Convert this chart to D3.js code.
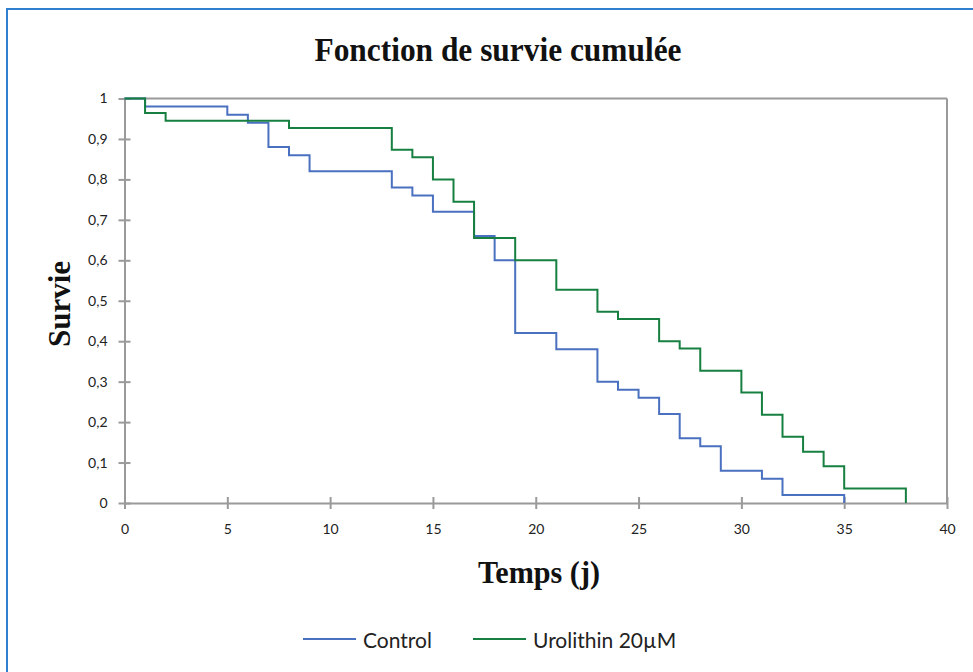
<!DOCTYPE html>
<html>
<head>
<meta charset="utf-8">
<script src="https://cdn.jsdelivr.net/npm/d3@7"></script>
<style>
  body { margin: 0; background: #fff; }
  svg { display: block; }
</style>
</head>
<body>
<script>
// ---- data ----
const controlTimes = [0, 1, 5, 6, 7, 8, 9, 13, 14, 15, 17, 18, 19, 21, 23, 24, 25, 26, 27, 28, 29, 31, 32, 35];
const controlSurv  = [1, 0.98, 0.96, 0.94, 0.88, 0.86, 0.82, 0.78, 0.76, 0.72, 0.66, 0.60, 0.42, 0.38, 0.30, 0.28, 0.26, 0.22, 0.16, 0.14, 0.08, 0.06, 0.02, 0];
const uroTimes = [0, 1, 2, 8, 13, 14, 15, 16, 17, 19, 21, 23, 24, 26, 27, 28, 30, 31, 32, 33, 34, 35, 38];
const uroSurv  = [1, 0.964, 0.945, 0.927, 0.873, 0.855, 0.800, 0.745, 0.655, 0.600, 0.527, 0.473, 0.455, 0.400, 0.382, 0.327, 0.273, 0.218, 0.164, 0.127, 0.091, 0.036, 0];
const xTicks = [0, 5, 10, 15, 20, 25, 30, 35, 40];
const yTicks = [0, 0.1, 0.2, 0.3, 0.4, 0.5, 0.6, 0.7, 0.8, 0.9, 1];
const seriesNames = ["Control", "Urolithin 20µM"];
const seriesColors = ["#4a70c0", "#178040"];

const W = 973, H = 672;
const svg = d3.select("body").append("svg").attr("width", W).attr("height", H);

// outer frame (extends past the window on right and bottom)
svg.append("rect").attr("x", 7).attr("y", 9).attr("width", 980).attr("height", 700)
  .attr("fill", "none").attr("stroke", "#2f7fcf").attr("stroke-width", 2);

const x = d3.scaleLinear().domain([0, 40]).range([124.5, 947]);
const y = d3.scaleLinear().domain([0, 1]).range([503, 98.5]);

const axisColor = "#9a9a9a";
const tickFont = "Lato, 'Open Sans', sans-serif";

// plot frame top & right
svg.append("line").attr("x1", x(0)).attr("x2", x(40)).attr("y1", y(1)).attr("y2", y(1))
  .attr("stroke", axisColor).attr("stroke-width", 2);
svg.append("line").attr("x1", x(40)).attr("x2", x(40)).attr("y1", y(1)).attr("y2", y(0))
  .attr("stroke", axisColor).attr("stroke-width", 2);

// axes
const xAxis = d3.axisBottom(x).tickValues(xTicks).tickFormat(d3.format("d")).tickSize(0).tickPadding(21);
const gx = svg.append("g").attr("transform", `translate(0,${y(0)})`).call(xAxis);
gx.select(".domain").attr("stroke", axisColor).attr("stroke-width", 2);
gx.selectAll(".tick").append("line").attr("y1", -6).attr("y2", 6).attr("stroke", axisColor).attr("stroke-width", 2);
gx.selectAll("text").attr("font-family", tickFont).attr("font-size", 14).attr("fill", "#222");

const fmt = d => d === 0 ? "0" : d === 1 ? "1" : d3.format(".1f")(d).replace(".", ",");
const yAxis = d3.axisLeft(y).tickValues(yTicks).tickFormat(fmt).tickSize(0).tickPadding(17);
const gy = svg.append("g").attr("transform", `translate(${x(0)},0)`).call(yAxis);
gy.select(".domain").attr("stroke", axisColor).attr("stroke-width", 2);
gy.selectAll(".tick").append("line").attr("x1", -6).attr("x2", 6).attr("stroke", axisColor).attr("stroke-width", 2);
gy.selectAll("text").attr("font-family", tickFont).attr("font-size", 14).attr("fill", "#222");

// step lines
const line = d3.line().x(d => x(d[0])).y(d => y(d[1])).curve(d3.curveStepAfter);
const series = [
  controlTimes.map((t, i) => [t, controlSurv[i]]),
  uroTimes.map((t, i) => [t, uroSurv[i]])
];
series.forEach((s, i) => {
  svg.append("path").datum(s).attr("d", line).attr("fill", "none")
    .attr("stroke", seriesColors[i]).attr("stroke-width", 2);
});

// titles
const serif = "'Liberation Serif', 'Times New Roman', serif";
svg.append("text").attr("x", 498).attr("y", 61).attr("text-anchor", "middle")
  .attr("font-family", serif).attr("font-weight", "bold").attr("font-size", 33)
  .attr("textLength", 367).attr("lengthAdjust", "spacingAndGlyphs")
  .attr("fill", "#111").text("Fonction de survie cumulée");
svg.append("text").attr("transform", "translate(70,304) rotate(-90)").attr("text-anchor", "middle")
  .attr("font-family", serif).attr("font-weight", "bold").attr("font-size", 31)
  .attr("textLength", 86).attr("lengthAdjust", "spacingAndGlyphs")
  .attr("fill", "#111").text("Survie");
svg.append("text").attr("x", 539).attr("y", 583).attr("text-anchor", "middle")
  .attr("font-family", serif).attr("font-weight", "bold").attr("font-size", 31)
  .attr("textLength", 122).attr("lengthAdjust", "spacingAndGlyphs")
  .attr("fill", "#111").text("Temps (j)");

// legend
const legendX = [303, 473];
seriesNames.forEach((n, i) => {
  svg.append("line").attr("x1", legendX[i]).attr("x2", legendX[i] + 53).attr("y1", 639).attr("y2", 639)
    .attr("stroke", seriesColors[i]).attr("stroke-width", 2);
  svg.append("text").attr("x", legendX[i] + 60).attr("y", 648)
    .attr("font-family", tickFont).attr("font-size", 21).attr("fill", "#222").text(n);
});
</script>
</body>
</html>
